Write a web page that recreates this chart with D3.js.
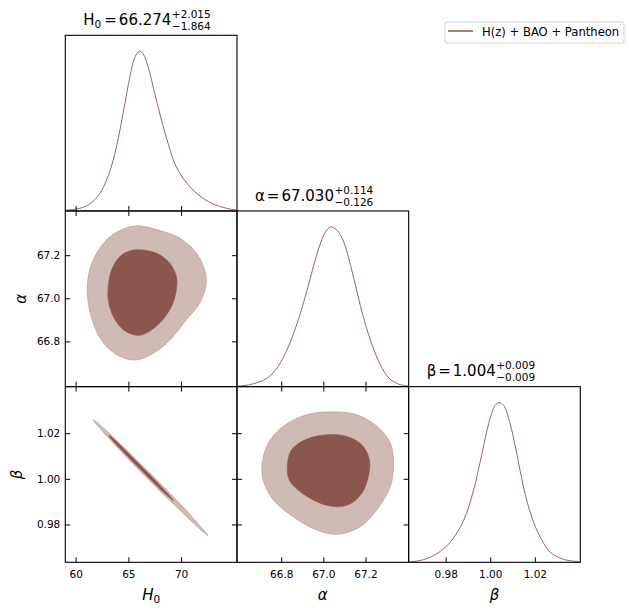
<!DOCTYPE html>
<html>
<head>
<meta charset="utf-8">
<script src="https://cdn.jsdelivr.net/npm/d3@7"></script>
<style>
   body { margin: 0; background: #fff; }
   text { font-family: "DejaVu Sans", sans-serif; }
</style>
</head>
<body>
<div id="corner"></div>
<script>
//--------------------------------------------------------------
// DATA
//--------------------------------------------------------------
var legendLabel = "H(z) + BAO + Pantheon";

// axis limits and ticks per parameter
var h0Range = [59.02, 75.30];
var alphaRange = [66.59, 67.405];
var betaRange = [0.9634, 1.0404];

var h0Ticks = [60, 65, 70];
var alphaTicks = [66.8, 67.0, 67.2];
var betaTicks = [0.98, 1.00, 1.02];

// marginal stats: value, +err, -err
var h0Stats = ["66.274", "+2.015", "\u22121.864"];
var alphaStats = ["67.030", "+0.114", "\u22120.126"];
var betaStats = ["1.004", "+0.009", "\u22120.009"];

// 1D marginals (normalised to peak = 1)
var h0Grid = [59.02, 60.41, 61.35, 62.30, 62.93, 63.56, 64.20, 64.67, 65.14, 65.62, 66.03, 66.40,
   66.88, 67.51, 68.14, 68.77, 69.40, 70.19, 71.14, 72.09, 73.03, 74.30, 75.24];
var h0Density = [0.004, 0.017, 0.044, 0.110, 0.193, 0.318, 0.505, 0.672, 0.838, 0.963, 1.0, 0.983,
   0.900, 0.734, 0.568, 0.422, 0.297, 0.204, 0.131, 0.079, 0.044, 0.017, 0.006];

var alphaGrid = [66.591, 66.652, 66.724, 66.772, 66.819, 66.867, 66.907, 66.946, 66.978, 67.010, 67.035,
   67.065, 67.097, 67.129, 67.160, 67.192, 67.232, 67.272, 67.311, 67.359, 67.403];
var alphaDensity = [0.002, 0.013, 0.046, 0.102, 0.207, 0.363, 0.530, 0.718, 0.864, 0.969, 1.0,
   0.979, 0.906, 0.760, 0.593, 0.426, 0.259, 0.134, 0.054, 0.015, 0.004];

var betaGrid = [0.9638, 0.9702, 0.9761, 0.9821, 0.9881, 0.9925, 0.9963, 0.9993, 1.0022, 1.0039,
   1.0060, 1.0089, 1.0119, 1.0149, 1.0186, 1.0224, 1.0268, 1.0328, 1.0400];
var betaDensity = [0.002, 0.017, 0.054, 0.127, 0.263, 0.451, 0.681, 0.868, 0.983, 1.0,
   0.983, 0.868, 0.681, 0.472, 0.284, 0.159, 0.065, 0.019, 0.004];

// 2D contours [x, y] : 95% (outer) and 68% (inner)
var h0AlphaOuter = [[65.77, 67.336], [67.98, 67.314], [69.88, 67.279], [71.46, 67.209], [72.31, 67.117],
   [72.34, 67.055], [71.77, 66.978], [70.51, 66.901], [69.25, 66.823], [67.67, 66.754], [65.77, 66.714],
   [64.20, 66.731], [62.62, 66.793], [61.67, 66.885], [61.16, 66.993], [61.16, 67.086], [61.67, 67.178],
   [62.93, 67.271], [64.20, 67.314]];
var h0AlphaInner = [[66.09, 67.225], [67.67, 67.209], [68.93, 67.163], [69.56, 67.101], [69.56, 67.040],
   [69.09, 66.962], [67.98, 66.885], [66.72, 66.839], [65.77, 66.828], [64.51, 66.854], [63.56, 66.916],
   [63.09, 66.993], [63.09, 67.055], [63.41, 67.132], [64.20, 67.194], [65.14, 67.220]];

var h0BetaOuter = [[61.67, 1.0259], [62.12, 1.0244], [62.98, 1.0209], [64.70, 1.0132], [66.94, 1.0030],
   [69.09, 0.9929], [70.67, 0.9853], [71.83, 0.9791], [72.34, 0.9765], [72.56, 0.9750], [72.15, 0.9765],
   [71.52, 0.9791], [70.10, 0.9853], [68.39, 0.9929], [66.18, 1.0030], [64.07, 1.0132], [62.54, 1.0209],
   [61.87, 1.0244]];
var h0BetaInner = [[63.19, 1.0191], [63.40, 1.0183], [64.01, 1.0158], [65.67, 1.0081], [67.30, 1.0005],
   [68.57, 0.9943], [69.23, 0.9908], [69.29, 0.9903], [69.14, 0.9908], [68.28, 0.9943], [66.93, 1.0005],
   [65.29, 1.0081], [63.69, 1.0158], [63.21, 1.0183]];

var alphaBetaOuter = [[67.048, 1.0293], [67.159, 1.0281], [67.254, 1.0230], [67.318, 1.0156], [67.333, 1.0069],
   [67.318, 0.9966], [67.254, 0.9864], [67.175, 0.9790], [67.064, 0.9757], [66.968, 0.9776], [66.857, 0.9834],
   [66.762, 0.9908], [66.714, 0.9995], [66.710, 1.0069], [66.738, 1.0156], [66.810, 1.0230], [66.921, 1.0281]];
var alphaBetaInner = [[67.016, 1.0193], [67.111, 1.0186], [67.183, 1.0149], [67.219, 1.0083], [67.214, 1.0010],
   [67.183, 0.9937], [67.127, 0.9890], [67.064, 0.9878], [66.984, 0.9893], [66.889, 0.9944], [66.838, 0.9995],
   [66.829, 1.0054], [66.849, 1.0127], [66.921, 1.0174]];

//--------------------------------------------------------------
// LAYOUT / STYLE
//--------------------------------------------------------------
var width = 629;
var height = 615;
var left = 65.3;
var top0 = 35.3;
var panelW = 171.67;
var panelH = 175.67;
var tickLen = 5;

var lineColor = "#8c564b";
var outerFill = "#d0bab5";
var outerEdge = "#c0a19b";
var innerFill = "#8b564b";

var svg = d3.select("#corner").append("svg")
   .attr("width", width)
   .attr("height", height);

// parameter descriptions built from the arrays above
var params = [
   { range: h0Range, ticks: h0Ticks, fmt: d3.format("d") },
   { range: alphaRange, ticks: alphaTicks, fmt: d3.format(".1f") },
   { range: betaRange, ticks: betaTicks, fmt: d3.format(".2f") }
];

//--------------------------------------------------------------
// FUNCTIONS
//--------------------------------------------------------------
function panel(row, col) {
   return svg.append("g")
      .attr("transform", `translate(${left + col * panelW}, ${top0 + row * panelH})`);
}

function xScaleFor(p) {
   return d3.scaleLinear().domain(params[p].range).range([0, panelW]);
}

function yScaleFor(p) {
   return d3.scaleLinear().domain(params[p].range).range([panelH, 0]);
}

function styleAxis(a, showLabels) {
   a.select(".domain").remove();
   a.selectAll(".tick line").attr("stroke", "#000").attr("stroke-width", 1);
   a.attr("font-family", null).attr("font-size", 10.5);
   a.selectAll("text").attr("fill", "#000");
   if (!showLabels) a.selectAll("text").remove();
}

function addAxis(g, axis, tx, ty, showLabels, pad) {
   var a = g.append("g")
      .attr("transform", `translate(${tx}, ${ty})`)
      .call(axis.tickSizeInner(-tickLen).tickSizeOuter(0).tickPadding(pad));
   styleAxis(a, showLabels);
}

function frame(g) {
   g.append("rect")
      .attr("width", panelW)
      .attr("height", panelH)
      .attr("fill", "none")
      .attr("stroke", "#000")
      .attr("stroke-width", 1.1);
}

// diagonal 1D marginal
function draw1D(row, grid, density, isBottom) {
   var g = panel(row, row);
   var x = xScaleFor(row);
   var y = d3.scaleLinear().domain([0, 1.1]).range([panelH, 0]);
   var pts = grid.map((v, i) => [v, density[i]]);
   g.append("path")
      .datum(pts)
      .attr("fill", "none")
      .attr("stroke", lineColor)
      .attr("stroke-width", 0.9)
      .attr("d", d3.line().x(d => x(d[0])).y(d => y(d[1])).curve(d3.curveCatmullRom.alpha(0.5)));
   addAxis(g, d3.axisBottom(x).tickValues(params[row].ticks).tickFormat(params[row].fmt), 0, panelH, isBottom, 8);
   frame(g);
   return g;
}

// off-diagonal 2D contours
function draw2D(row, col, outer, inner, curve) {
   var g = panel(row, col);
   var x = xScaleFor(col);
   var y = yScaleFor(row);
   var line = d3.line().x(d => x(d[0])).y(d => y(d[1])).curve(curve);
   g.append("path").datum(outer)
      .attr("fill", outerFill).attr("stroke", outerEdge).attr("stroke-width", 0.8)
      .attr("d", line);
   g.append("path").datum(inner)
      .attr("fill", innerFill).attr("stroke", innerFill).attr("stroke-width", 0.5)
      .attr("d", line);

   var xp = params[col], yp = params[row];
   addAxis(g, d3.axisBottom(x).tickValues(xp.ticks).tickFormat(xp.fmt), 0, panelH, row == 2, 8);
   addAxis(g, d3.axisTop(x).tickValues(xp.ticks).tickFormat(""), 0, 0, false, 3);
   addAxis(g, d3.axisLeft(y).tickValues(yp.ticks).tickFormat(yp.fmt), 0, 0, col == 0, 5);
   addAxis(g, d3.axisRight(y).tickValues(yp.ticks).tickFormat(""), panelW, 0, false, 3);
   frame(g);
}

// title like  H0 = 66.274 (+2.015 / -1.864), starts a little in from the panel's left edge
function drawTitle(col, sym, symSub, stats) {
   var baseY = top0 + col * panelH - 10.2;
   var x0 = left + col * panelW + 18;
   var g = svg.append("g").attr("transform", `translate(${x0}, 0)`);
   var main = g.append("text").attr("y", baseY).attr("font-size", 15).attr("fill", "#000");
   main.append("tspan").text(sym);
   if (symSub) main.append("tspan").attr("font-size", 10.5).attr("dy", 3).text(symSub);
   main.append("tspan").attr("dx", symSub ? 3 : 2).attr("dy", symSub ? -3 : 0).text("=");
   main.append("tspan").attr("dx", 2).text(stats[0]);
   var w = main.node().getComputedTextLength() + (symSub ? 5 : 4);
   g.append("text").attr("x", w + 0.5).attr("y", baseY - 7).attr("font-size", 10.5).text(stats[1]);
   g.append("text").attr("x", w + 0.5).attr("y", baseY + 5).attr("font-size", 10.5).text(stats[2]);
}

function axisLabels() {
   var by = 600;
   var h = svg.append("text")
      .attr("x", left + panelW / 2).attr("y", by)
      .attr("text-anchor", "middle").attr("font-size", 15).attr("font-style", "italic");
   h.append("tspan").text("H");
   h.append("tspan").attr("font-size", 10.5).attr("font-style", "normal").attr("dy", 3).text("0");

   svg.append("text")
      .attr("x", left + 1.5 * panelW).attr("y", by)
      .attr("text-anchor", "middle").attr("font-size", 15).attr("font-style", "italic")
      .text("\u03b1");
   svg.append("text")
      .attr("x", left + 2.5 * panelW).attr("y", by)
      .attr("text-anchor", "middle").attr("font-size", 15).attr("font-style", "italic")
      .text("\u03b2");

   // y labels, rotated
   svg.append("text")
      .attr("transform", `translate(26, ${top0 + 1.5 * panelH}) rotate(-90)`)
      .attr("text-anchor", "middle").attr("font-size", 15).attr("font-style", "italic")
      .text("\u03b1");
   svg.append("text")
      .attr("transform", `translate(21.5, ${top0 + 2.5 * panelH}) rotate(-90)`)
      .attr("text-anchor", "middle").attr("font-size", 15).attr("font-style", "italic")
      .text("\u03b2");
}

function legend() {
   var g = svg.append("g").attr("transform", "translate(445, 22)");
   g.append("rect")
      .attr("width", 179).attr("height", 21).attr("rx", 2)
      .attr("fill", "#fff").attr("stroke", "#d0d0d0").attr("stroke-width", 1);
   g.append("line")
      .attr("x1", 3).attr("x2", 28).attr("y1", 9).attr("y2", 9)
      .attr("stroke", lineColor).attr("stroke-width", 1.5);
   g.append("text")
      .attr("x", 37).attr("y", 14).attr("font-size", 11.6).attr("fill", "#000")
      .text(legendLabel);
}

//--------------------------------------------------------------
// DRAW
//--------------------------------------------------------------
draw2D(1, 0, h0AlphaOuter, h0AlphaInner, d3.curveCatmullRomClosed.alpha(0.5));
draw2D(2, 0, h0BetaOuter, h0BetaInner, d3.curveLinearClosed);
draw2D(2, 1, alphaBetaOuter, alphaBetaInner, d3.curveCatmullRomClosed.alpha(0.5));
draw1D(0, h0Grid, h0Density, false);
draw1D(1, alphaGrid, alphaDensity, false);
draw1D(2, betaGrid, betaDensity, true);

drawTitle(0, "H", "0", h0Stats);
drawTitle(1, "\u03b1", null, alphaStats);
drawTitle(2, "\u03b2", null, betaStats);

axisLabels();
legend();
</script>
</body>
</html>
